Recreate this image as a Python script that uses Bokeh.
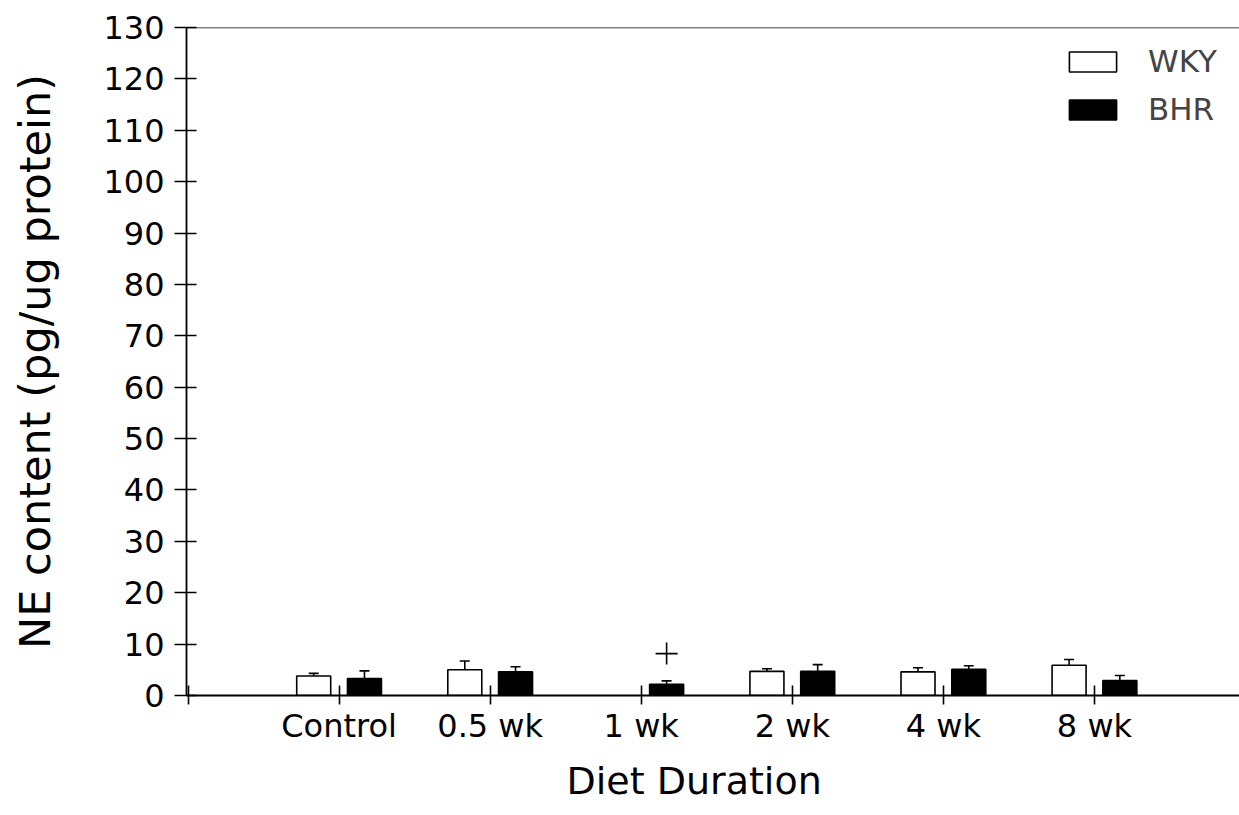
from bokeh.plotting import figure
from bokeh.models import (ColumnDataSource, Range1d, FixedTicker, Span, Whisker,
                          TeeHead, Legend, LegendItem, Title)
from bokeh.embed import file_html
from bokeh.resources import INLINE
import numpy as np

categories = ["Control", "0.5 wk", "1 wk", "2 wk", "4 wk", "8 wk"]
wky_mean = [3.8, 5.0, np.nan, 4.7, 4.6, 5.9]
wky_err = [0.5, 1.7, np.nan, 0.5, 0.8, 1.1]
bhr_mean = [3.3, 4.6, 2.2, 4.7, 5.1, 2.9]
bhr_err = [1.5, 1.0, 0.65, 1.3, 0.7, 1.0]
sig_marks = [None, None, "+", None, None, None]
y_ticks = list(range(0, 140, 10))
x_title = "Diet Duration"
y_title = "NE content (pg/ug protein)"

FONT = "DejaVu Sans"
idx = list(range(len(categories)))
off = 0.168
bw = 0.225

wky = ColumnDataSource(dict(x=[i - off for i in idx], top=wky_mean,
                            up=[m + e for m, e in zip(wky_mean, wky_err)]))
bhr = ColumnDataSource(dict(x=[i + off for i in idx], top=bhr_mean,
                            up=[m + e for m, e in zip(bhr_mean, bhr_err)]))

p = figure(width=1239, height=815, output_backend="svg", toolbar_location=None,
           x_range=Range1d(-1.01, 5.96), y_range=Range1d(0, 130),
           min_border_left=186, min_border_right=0, min_border_top=27,
           min_border_bottom=120)
p.outline_line_color = None
p.grid.visible = False
p.background_fill_color = "white"
p.border_fill_color = "white"

r_w = p.vbar(x="x", top="top", width=bw, bottom=0, source=wky,
             fill_color="white", line_color="black", line_width=1.6)
r_b = p.vbar(x="x", top="top", width=bw, bottom=0, source=bhr,
             fill_color="black", line_color="black", line_width=1.6)

for src in (wky, bhr):
    w = Whisker(base="x", lower="top", upper="up", source=src,
                line_color="black", line_width=1.6,
                upper_head=TeeHead(size=10, line_width=1.6, line_color="black"),
                lower_head=None)
    p.add_layout(w)

sx = [i + off for i, s in zip(idx, sig_marks) if s]
sy = [bhr_mean[i] + bhr_err[i] + 5.3 for i, s in zip(idx, sig_marks) if s]
p.scatter(sx, sy, marker="cross", size=22, line_color="black", line_width=1.6)

p.add_layout(Span(location=130, dimension="width", line_color="black", line_width=1.6))

# axes
p.xaxis.ticker = FixedTicker(ticks=[-1] + idx)
p.xaxis.major_label_overrides = {**{i: c for i, c in zip(idx, categories)}, -1: ""}
p.yaxis.ticker = FixedTicker(ticks=y_ticks)
for ax in (p.xaxis[0], p.yaxis[0]):
    ax.axis_line_color = "black"
    ax.axis_line_width = 1.8
    ax.major_tick_line_color = "black"
    ax.major_tick_line_width = 1.6
    ax.minor_tick_line_color = None
    ax.major_label_text_font = FONT
    ax.major_label_text_font_size = "32px"
    ax.major_label_text_color = "black"
p.xaxis.major_tick_in = 10
p.xaxis.major_tick_out = 9
p.yaxis.major_tick_in = 10
p.yaxis.major_tick_out = 12
p.xaxis.major_label_standoff = 2
p.yaxis.major_label_standoff = 10

p.yaxis.axis_label = y_title
p.yaxis.axis_label_text_font = FONT
p.yaxis.axis_label_text_font_style = "normal"
p.yaxis.axis_label_text_color = "black"
p.yaxis.axis_label_text_font_size = "43px"
p.yaxis.axis_label_standoff = 40

# x title placed slightly off-centre as in the original figure
p.add_layout(Title(text=x_title, align="left", offset=380, standoff=18,
                   text_font=FONT, text_font_size="38px", text_font_style="normal",
                   text_color="black"), "below")

legend = Legend(items=[LegendItem(label="WKY", renderers=[r_w]),
                       LegendItem(label="BHR", renderers=[r_b])],
                location=(877, 568), orientation="vertical",
                glyph_width=59, glyph_height=25, label_height=25,
                label_text_font=FONT, label_text_font_size="31px",
                label_standoff=26, spacing=12, padding=0, margin=0,
                border_line_alpha=0, background_fill_alpha=0)
p.add_layout(legend)

open("out.html", "w").write(file_html(p, INLINE))
